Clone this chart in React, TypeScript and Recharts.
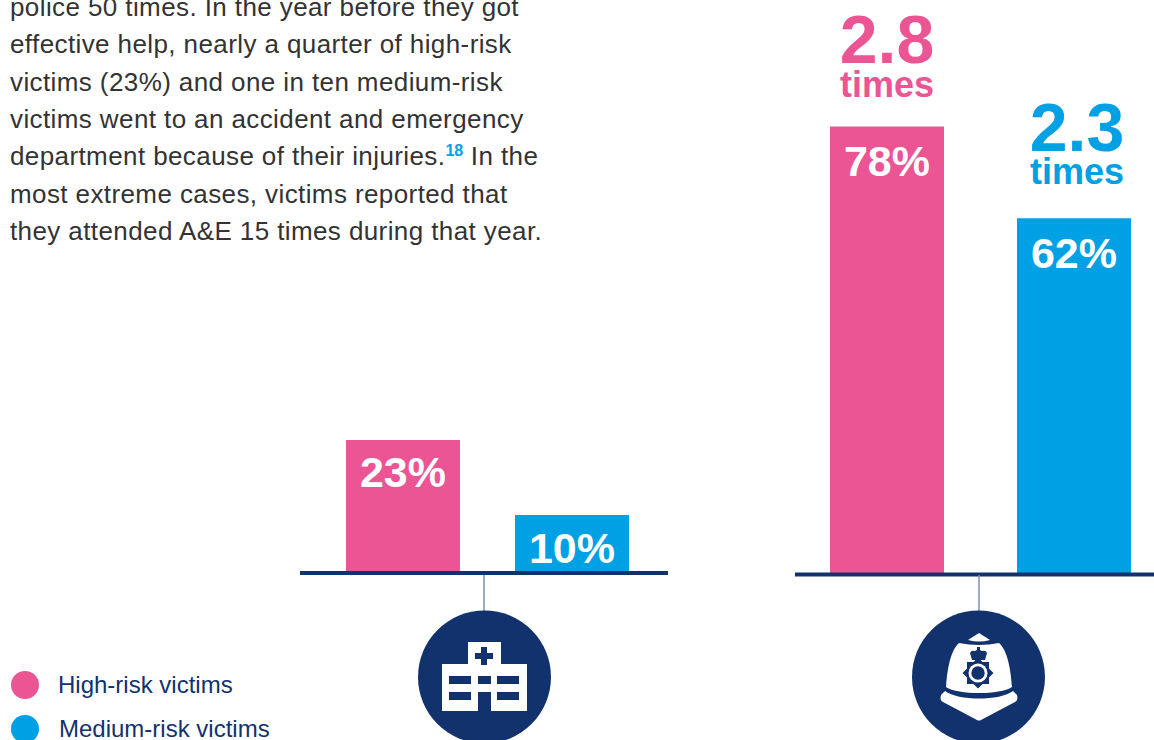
import { BarChart, Bar, XAxis, YAxis, LabelList, Legend } from 'recharts'

const SERIES_NAMES = ['High-risk victims', 'Medium-risk victims']
const HIGH_COLOR = '#ec5594'
const MEDIUM_COLOR = '#00a0e4'
const NAVY = '#12326e'

const AE_CATEGORY = ['A&E']
const AE_HIGH = [23]
const AE_MEDIUM = [10]

const POLICE_CATEGORY = ['Police']
const POLICE_HIGH = [78]
const POLICE_MEDIUM = [62]
const POLICE_HIGH_TIMES = ['2.8']
const POLICE_MEDIUM_TIMES = ['2.3']

const BODY_LINES = [
  'police 50 times. In the year before they got',
  'effective help, nearly a quarter of high-risk',
  'victims (23%) and one in ten medium-risk',
  'victims went to an accident and emergency',
  'department because of their injuries.',
  'most extreme cases, victims reported that',
  'they attended A&E 15 times during that year.',
]

const FONT = '"Liberation Sans", Arial, sans-serif'

const toRows = (cats: string[], high: number[], medium: number[]) =>
  cats.map((c, i) => ({ category: c, high: high[i], medium: medium[i] }))

const percentLabel = (drop: number) => (props: any) => {
  const { x, y, width, value } = props
  return (
    <text x={x + width / 2} y={y + drop} textAnchor="middle" fill="#fff" fontFamily={FONT} fontWeight={700} fontSize={43}>
      {value}%
    </text>
  )
}

const timesLabel = (times: string[], color: string, lift: number, gap: number, shift: number) => (props: any) => {
  const { x, y, width, index } = props
  return (
    <g fill={color} fontFamily={FONT} fontWeight={700} textAnchor="middle">
      <text x={x + width / 2 + shift} y={y - lift - gap} fontSize={68}>{times[index]}</text>
      <text x={x + width / 2 + shift} y={y - lift} fontSize={36}>times</text>
    </g>
  )
}

const LegendContent = ({ payload }: any) => (
  <div style={{ width: 290, fontFamily: FONT, fontSize: 24, color: NAVY }}>
    {(payload ?? []).map((p: any, i: number) => (
      <div key={p.value} style={{ position: 'absolute', left: 11, top: i * 44, height: 28, whiteSpace: 'nowrap' }}>
        <span style={{ position: 'absolute', left: 0, top: 0, width: 28, height: 28, borderRadius: 14, background: p.color }} />
        <span style={{ position: 'absolute', left: 47 + i, top: 0, lineHeight: '28px' }}>{p.value}</span>
      </div>
    ))}
  </div>
)

const HospitalIcon = () => (
  <g>
    <line x1={484} y1={575} x2={484} y2={612} stroke="#7b8fb5" strokeWidth={1.5} />
    <circle cx={484.5} cy={677} r={66.5} fill={NAVY} />
    <path fill="#fff" fillRule="evenodd" d="M442 711V664H468V642H501V664H527V711H491V692H478V711Z M449 676V684H471V676Z M478 676V684H491V676Z M497 676V684H519V676Z M449 692V700H471V692Z M497 692V700H519V692Z M481 647V653H475V659H481V665H487V659H493V653H487V647Z" />
  </g>
)

const HelmetIcon = () => (
  <g>
    <line x1={979} y1={575} x2={979} y2={612} stroke="#7b8fb5" strokeWidth={1.5} />
    <circle cx={978.5} cy={677} r={66.5} fill={NAVY} />
    <path fill="#fff" d="M968 640L979 633L990 640Q979 643 968 640Z" />
    <path fill="#fff" d="M959 643Q979 647 999 643C1009 652 1011 675 1012 687C1000 695 958 695 946 687C947 675 949 652 959 643Z" />
    <path fill="#fff" d="M945 691C958 701 1000 701 1013 691L1017 695C1018 699 1017 701 1015 702L981 720Q979 721 977 720L943 702C941 701 940 699 941 695Z" />
    <path fill={NAVY} d="M993.5 673L989 677.6L989 684L982.6 684L978 688.5L973.4 684L967 684L967 677.6L962.5 673L967 668.4L967 662L973.4 662L978 657.5L982.6 662L989 662L989 668.4Z" />
    <circle cx={978} cy={673} r={9.5} fill="#fff" />
    <circle cx={978} cy={673} r={6.7} fill={NAVY} />
    <path fill={NAVY} d="M972 660L970 653Q971 650 975 651L977 650V647H980V650L982 651Q986 650 987 653L985 660Z" />
  </g>
)

export default function App() {
  return (
    <div style={{ position: 'absolute', left: 0, top: 0, width: 1154, height: 740, overflow: 'hidden', background: '#fff' }}>
      <div style={{ position: 'absolute', left: 0, top: 0 }}>
        <BarChart
          width={668}
          height={740}
          data={toRows(AE_CATEGORY, AE_HIGH, AE_MEDIUM)}
          margin={{ top: 0, right: 0, bottom: 166, left: 300 }}
          barSize={114}
          barGap={55}
        >
          <XAxis dataKey="category" height={1} tick={false} tickLine={false} padding={{ left: 7, right: 0 }} axisLine={{ stroke: NAVY, strokeWidth: 4 }} />
          <YAxis hide domain={[0, 99]} />
          <Legend layout="horizontal" verticalAlign="middle" align="center" content={LegendContent} wrapperStyle={{ position: 'absolute', left: 0, top: 671, width: 290, height: 60 }} />
          <Bar dataKey="high" name={SERIES_NAMES[0]} fill={HIGH_COLOR} isAnimationActive={false}>
            <LabelList dataKey="high" content={percentLabel(47)} />
          </Bar>
          <Bar dataKey="medium" name={SERIES_NAMES[1]} fill={MEDIUM_COLOR} isAnimationActive={false}>
            <LabelList dataKey="medium" content={percentLabel(48)} />
          </Bar>
        </BarChart>
      </div>
      <div style={{ position: 'absolute', left: 700, top: 0 }}>
        <BarChart
          width={454}
          height={740}
          data={toRows(POLICE_CATEGORY, POLICE_HIGH, POLICE_MEDIUM)}
          margin={{ top: 0, right: 0, bottom: 164.5, left: 95 }}
          barSize={114}
          barGap={73}
        >
          <XAxis dataKey="category" height={1} tick={false} tickLine={false} padding={{ left: 12, right: 0 }} axisLine={{ stroke: NAVY, strokeWidth: 4 }} />
          <YAxis hide domain={[0, 100]} />
          <Bar dataKey="high" fill={HIGH_COLOR} isAnimationActive={false}>
            <LabelList dataKey="high" content={percentLabel(50)} />
            <LabelList dataKey="high" content={timesLabel(POLICE_HIGH_TIMES, HIGH_COLOR, 29, 34, 0)} />
          </Bar>
          <Bar dataKey="medium" fill={MEDIUM_COLOR} isAnimationActive={false}>
            <LabelList dataKey="medium" content={percentLabel(50)} />
            <LabelList dataKey="medium" content={timesLabel(POLICE_MEDIUM_TIMES, MEDIUM_COLOR, 34, 33, 3)} />
          </Bar>
        </BarChart>
      </div>
      <svg width={1154} height={740} style={{ position: 'absolute', left: 0, top: 0, pointerEvents: 'none' }}>
        <HospitalIcon />
        <HelmetIcon />
        <g fontFamily={FONT} fontSize={26} letterSpacing={0.4} fill="#333">
          {BODY_LINES.map((line, i) => (
            <text key={i} x={10} y={16 + i * 37.3}>
              {line}
              {i === 4 && <tspan dy={-9} fontSize={16} fontWeight={700} letterSpacing={0} fill={MEDIUM_COLOR}>18</tspan>}
              {i === 4 && <tspan dy={9}> In the</tspan>}
            </text>
          ))}
        </g>
      </svg>
    </div>
  )
}
